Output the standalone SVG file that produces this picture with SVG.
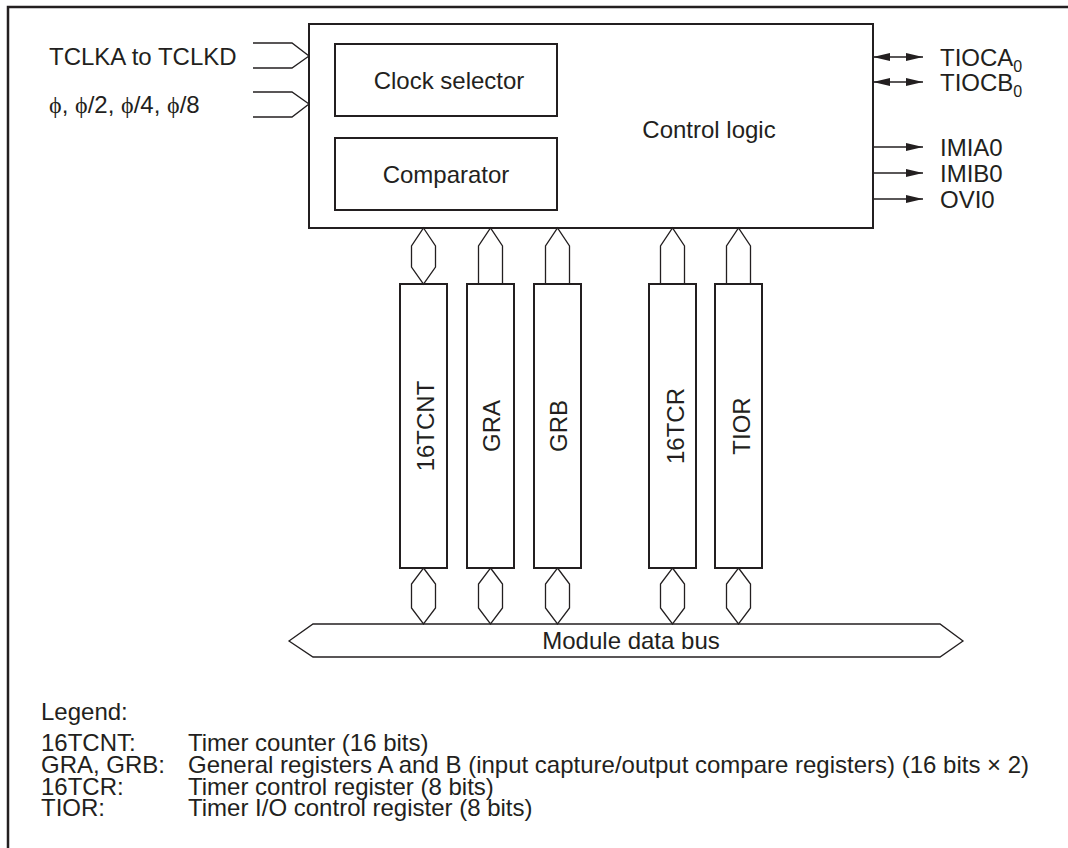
<svg xmlns="http://www.w3.org/2000/svg" width="1068" height="848" viewBox="0 0 1068 848">
<style>
text{font-family:"Liberation Sans",Arial,sans-serif;font-size:24px;fill:#231f20}
.phi{font-family:"Liberation Serif","DejaVu Serif",serif}
.ln{fill:none;stroke:#231f20;stroke-width:1.3}
.bx{fill:#fff;stroke:#231f20;stroke-width:2}
.sub{font-size:16px}
</style>
<defs>
<marker id="ah" markerWidth="17" markerHeight="8" refX="17" refY="4" orient="auto-start-reverse" markerUnits="userSpaceOnUse">
<path d="M0,0 L17,4 L0,8 Z" fill="#231f20"/>
</marker>
</defs>
<rect width="1068" height="848" fill="#fff"/>
<path d="M8,848 V7 H1068" fill="none" stroke="#231f20" stroke-width="2.5"/>

<g id="control-logic">
<rect class="bx" x="309" y="24" width="564" height="204"/>
<text x="709" y="138" text-anchor="middle">Control logic</text>
</g>
<g id="clock-selector">
<rect class="bx" x="335" y="44" width="222" height="72"/>
<text x="449" y="89" text-anchor="middle">Clock selector</text>
</g>
<g id="comparator">
<rect class="bx" x="335" y="138" width="222" height="72"/>
<text x="446" y="183" text-anchor="middle">Comparator</text>
</g>

<g id="reg-16tcnt">
<rect class="bx" x="400" y="284" width="47" height="284"/>
<text transform="translate(433.5,426) rotate(-90)" text-anchor="middle">16TCNT</text>
</g>
<g id="reg-gra">
<rect class="bx" x="467" y="284" width="47" height="284"/>
<text transform="translate(500,426) rotate(-90)" text-anchor="middle">GRA</text>
</g>
<g id="reg-grb">
<rect class="bx" x="534" y="284" width="47" height="284"/>
<text transform="translate(566.5,426) rotate(-90)" text-anchor="middle">GRB</text>
</g>
<g id="reg-16tcr">
<rect class="bx" x="649" y="284" width="47" height="284"/>
<text transform="translate(683.5,426) rotate(-90)" text-anchor="middle">16TCR</text>
</g>
<g id="reg-tior">
<rect class="bx" x="715" y="284" width="47" height="284"/>
<text transform="translate(749.5,426) rotate(-90)" text-anchor="middle">TIOR</text>
</g>

<g id="module-data-bus">
<polygon class="ln" points="289,641 313,624 940,624 963,641 940,657 313,657"/>
<text x="631" y="649" text-anchor="middle">Module data bus</text>
</g>

<g id="connectors">
<polyline class="ln" points="253,43 292,43 309,56 292,68 253,68"/>
<polyline class="ln" points="253,92 292,92 309,104 292,117 253,117"/>
<polygon class="ln" points="423.5,228 435.5,246 435.5,267 423.5,284 411.5,267 411.5,246"/>
<polyline class="ln" points="478.5,284 478.5,246 490.5,228 502.5,246 502.5,284"/>
<polyline class="ln" points="545.5,284 545.5,246 557.5,228 569.5,246 569.5,284"/>
<polyline class="ln" points="660.5,284 660.5,246 672.5,228 684.5,246 684.5,284"/>
<polyline class="ln" points="726.5,284 726.5,246 738.5,228 750.5,246 750.5,284"/>
<polygon class="ln" points="423.5,568 435.5,584 435.5,608 423.5,624 411.5,608 411.5,584"/>
<polygon class="ln" points="490.5,568 502.5,584 502.5,608 490.5,624 478.5,608 478.5,584"/>
<polygon class="ln" points="557.5,568 569.5,584 569.5,608 557.5,624 545.5,608 545.5,584"/>
<polygon class="ln" points="672.5,568 684.5,584 684.5,608 672.5,624 660.5,608 660.5,584"/>
<polygon class="ln" points="738.5,568 750.5,584 750.5,608 738.5,624 726.5,608 726.5,584"/>
<line class="ln" x1="873" y1="57" x2="923" y2="57" marker-start="url(#ah)" marker-end="url(#ah)"/>
<line class="ln" x1="873" y1="82" x2="923" y2="82" marker-start="url(#ah)" marker-end="url(#ah)"/>
<line class="ln" x1="873" y1="147" x2="923" y2="147" marker-end="url(#ah)"/>
<line class="ln" x1="873" y1="173" x2="923" y2="173" marker-end="url(#ah)"/>
<line class="ln" x1="873" y1="199" x2="923" y2="199" marker-end="url(#ah)"/>
</g>

<g id="labels">
<text x="49" y="64.5">TCLKA to TCLKD</text>
<text x="49" y="112.5"><tspan class="phi">ϕ</tspan>, <tspan class="phi">ϕ</tspan>/2, <tspan class="phi">ϕ</tspan>/4, <tspan class="phi">ϕ</tspan>/8</text>
<text x="940" y="65.5">TIOCA<tspan class="sub" dy="6">0</tspan></text>
<text x="940" y="90.5">TIOCB<tspan class="sub" dy="6">0</tspan></text>
<text x="940" y="155.5">IMIA0</text>
<text x="940" y="181.5">IMIB0</text>
<text x="940" y="207.5">OVI0</text>
</g>

<g id="legend">
<text x="41" y="720">Legend:</text>
<text x="41" y="751">16TCNT:</text>
<text x="188" y="751">Timer counter (16 bits)</text>
<text x="41" y="773">GRA, GRB:</text>
<text x="188" y="773">General registers A and B (input capture/output compare registers) (16 bits × 2)</text>
<text x="41" y="795">16TCR:</text>
<text x="188" y="795">Timer control register (8 bits)</text>
<text x="41" y="816">TIOR:</text>
<text x="188" y="816">Timer I/O control register (8 bits)</text>
</g>
</svg>
